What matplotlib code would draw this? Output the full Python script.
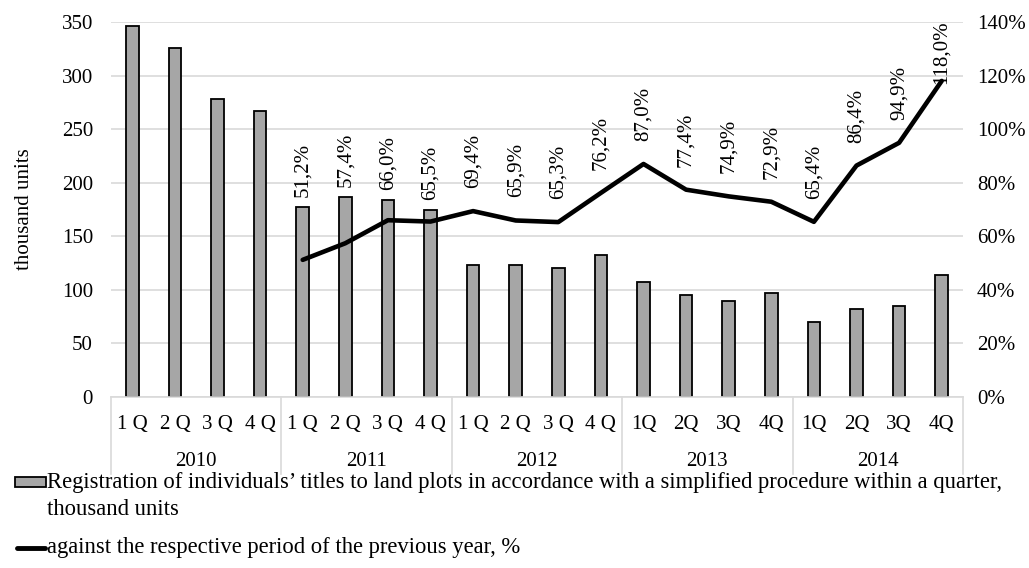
import matplotlib
matplotlib.use("Agg")
import matplotlib.pyplot as plt
from matplotlib.transforms import blended_transform_factory
from matplotlib.lines import Line2D
from matplotlib.patches import Rectangle

plt.rcParams['font.family'] = ['Liberation Serif', 'DejaVu Serif']

years = ["2010", "2011", "2012", "2013", "2014"]
quarters = ["1 Q", "2 Q", "3 Q", "4 Q",
            "1 Q", "2 Q", "3 Q", "4 Q",
            "1 Q", "2 Q", "3 Q", "4 Q",
            "1Q", "2Q", "3Q", "4Q",
            "1Q", "2Q", "3Q", "4Q"]
registrations = [346, 326, 278, 267,
                 177, 187, 184, 175,
                 123, 123, 120, 133,
                 107, 95, 90, 97,
                 70, 82, 85, 114]
growth_pct = [None, None, None, None,
              51.2, 57.4, 66.0, 65.5,
              69.4, 65.9, 65.3, 76.2,
              87.0, 77.4, 74.9, 72.9,
              65.4, 86.4, 94.9, 118.0]
growth_labels = ["", "", "", "",
                 "51,2%", "57,4%", "66,0%", "65,5%",
                 "69,4%", "65,9%", "65,3%", "76,2%",
                 "87,0%", "77,4%", "74,9%", "72,9%",
                 "65,4%", "86,4%", "94,9%", "118,0%"]
bar_label = ("Registration of individuals\u2019 titles to land plots in accordance with a simplified procedure within a quarter,\n"
             "thousand units")
line_label = "against the respective period of the previous year, %"

W, H = 1029, 568
fig = plt.figure(figsize=(W / 100, H / 100), dpi=100)
L, R, T, B = 111, 963, 22, 397
ax = fig.add_axes([L / W, 1 - B / H, (R - L) / W, (B - T) / H])
ax2 = ax.twinx()

n = len(registrations)
x = list(range(n))
grid_c = "#d9d9d9"
fs = 15
fs_leg = 16.3

ax.set_xlim(-0.5, n - 0.5)
ax.set_ylim(0, 350)
ax.set_yticks(range(0, 351, 50))
ax.yaxis.grid(True, color=grid_c, lw=1.2)
ax.set_axisbelow(True)
ax.bar(x, registrations, width=0.3, color="#a6a6a6", edgecolor="black", lw=1.3, zorder=2)
for s in ["top", "right", "left"]:
    ax.spines[s].set_visible(False)
ax.spines["bottom"].set_color(grid_c)
ax.spines["bottom"].set_linewidth(1.2)
ax.tick_params(axis="y", length=0, labelsize=fs, pad=13)
ax.set_xticks([])
ax.set_ylabel("thousand units", fontsize=fs, labelpad=20)

ax2.set_ylim(0, 140)
ax2.set_yticks(range(0, 141, 20))
ax2.set_yticklabels([f"{v}%" for v in range(0, 141, 20)])
ax2.tick_params(axis="y", length=0, labelsize=fs, pad=10)
for s in ["top", "right", "left", "bottom"]:
    ax2.spines[s].set_visible(False)
lx = [i for i in x if growth_pct[i] is not None]
ly = [growth_pct[i] for i in lx]
ax2.plot(lx, ly, color="black", lw=3.3, solid_capstyle="round", solid_joinstyle="round", zorder=3)

# data labels (rotated), placed above the higher of the bar top and the line point
px_per_pct = (B - T) / 140.0
for i in lx:
    bar_pct = registrations[i] * 140.0 / 350.0
    pt = growth_pct[i]
    if bar_pct + 4 > pt:
        base = bar_pct + 10 / px_per_pct
    else:
        base = pt + 23 / px_per_pct
    label_h = 66 / px_per_pct
    top_limit = 140 + 4 / px_per_pct
    base = min(base, top_limit - label_h)
    ax2.text(i, base, growth_labels[i], rotation=90, ha="center", va="bottom",
             fontsize=fs, zorder=4)

# multi-level category axis
tr = blended_transform_factory(ax.transData, ax.transAxes)
ax_h = B - T
for i, q in enumerate(quarters):
    ax.text(i, -(425 - B) / ax_h, q, transform=tr, ha="center", va="center", fontsize=fs)
for k, y in enumerate(years):
    ax.text(4 * k + 1.5, -(461 - B) / ax_h, y, transform=tr, ha="center", va="center", fontsize=fs)
for k in range(len(years) + 1):
    xx = 4 * k - 0.5
    ax.add_line(Line2D([xx, xx], [0, -(474 - B) / ax_h], transform=tr, color=grid_c,
                       lw=1.2, clip_on=False))

# legend (drawn below the chart)
fig.patches.append(Rectangle((15 / W, 1 - 487 / H), 31 / W, 10 / H, transform=fig.transFigure,
                             facecolor="#a6a6a6", edgecolor="black", lw=1.3))
fig.text(47 / W, 1 - 472 / H, bar_label, ha="left", va="top", fontsize=fs_leg, linespacing=1.4)
fig.lines.append(Line2D([17 / W, 45 / W], [1 - 548 / H, 1 - 548 / H], transform=fig.transFigure,
                        color="black", lw=3.5, solid_capstyle="round"))
fig.text(47 / W, 1 - 548 / H, line_label, ha="left", va="center", fontsize=fs_leg)

fig.savefig("out.png", dpi=100)
